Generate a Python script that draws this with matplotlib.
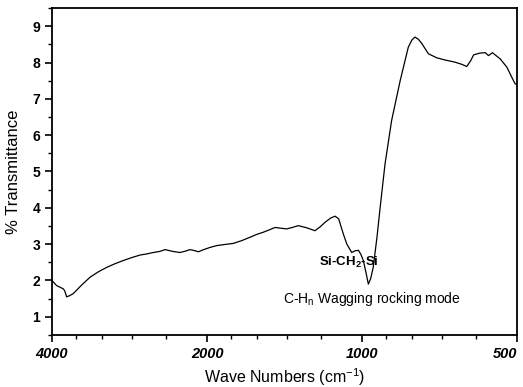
import matplotlib
matplotlib.use("Agg")
import matplotlib.pyplot as plt
from matplotlib.ticker import FixedLocator, FixedFormatter, NullFormatter, MultipleLocator

# IR spectrum (wave number in cm-1, % transmittance)
wave_numbers = [4000, 3918, 3803, 3780, 3746, 3700, 3636, 3500, 3374, 3250,
                3133, 3020, 2908, 2800, 2699, 2620, 2543, 2470, 2412, 2330,
                2256, 2200, 2158, 2110, 2079, 2030, 1973, 1915, 1850, 1779,
                1710, 1650, 1600, 1554, 1510, 1475, 1440, 1400, 1365, 1330,
                1280, 1234, 1205, 1180, 1150, 1128, 1110, 1087, 1070, 1047,
                1030, 1016, 1005, 994, 980, 972, 962, 951, 935, 922,
                902, 876, 843, 813, 800, 789, 777, 765, 743, 716,
                690, 660, 640, 626, 615, 607, 590, 576, 568, 558,
                539, 523, 510, 504, 500]
transmittance = [2.00, 1.86, 1.77, 1.72, 1.55, 1.58, 1.64, 1.88, 2.09, 2.24,
                 2.36, 2.46, 2.55, 2.63, 2.70, 2.73, 2.77, 2.80, 2.85, 2.80,
                 2.77, 2.81, 2.85, 2.82, 2.79, 2.85, 2.91, 2.96, 2.99, 3.02,
                 3.10, 3.19, 3.27, 3.33, 3.40, 3.46, 3.44, 3.42, 3.46, 3.51,
                 3.45, 3.37, 3.48, 3.60, 3.72, 3.77, 3.70, 3.28, 3.00, 2.77,
                 2.82, 2.83, 2.72, 2.55, 2.15, 1.90, 2.05, 2.36, 3.20, 4.01,
                 5.21, 6.40, 7.50, 8.42, 8.62, 8.70, 8.64, 8.52, 8.24, 8.13,
                 8.07, 8.01, 7.95, 7.89, 8.05, 8.21, 8.26, 8.27, 8.19, 8.27,
                 8.10, 7.87, 7.55, 7.41, 7.41]

x_major = [4000, 2000, 1000, 500]
x_major_labels = ["4000", "2000", "1000", "500"]
x_minor = [3600, 3200, 2800, 2400, 1800, 1600, 1400, 1200, 900, 800, 700, 600]

fig = plt.figure(figsize=(5.23, 3.87), dpi=100)
ax = fig.add_axes([0.0994, 0.1344, 0.8891, 0.8449])

ax.plot(wave_numbers, transmittance, color="black", linewidth=0.9)

ax.set_xscale("log")
ax.set_xlim(4000, 500)
ax.set_ylim(0.5, 9.5)

ax.xaxis.set_major_locator(FixedLocator(x_major))
ax.xaxis.set_major_formatter(FixedFormatter(x_major_labels))
ax.xaxis.set_minor_locator(FixedLocator(x_minor))
ax.xaxis.set_minor_formatter(NullFormatter())
ax.yaxis.set_major_locator(MultipleLocator(1))
ax.yaxis.set_minor_locator(MultipleLocator(0.5))

for s in ["left", "bottom", "right", "top"]:
    ax.spines[s].set_linewidth(1.3)

ax.tick_params(which="major", direction="out", length=5, width=1.2,
               top=False, right=False, labelsize=10)
ax.tick_params(axis="x", which="major", labelsize=10.5)
ax.tick_params(which="minor", direction="out", length=3, width=1.0,
               top=False, right=False)

xlabels = ax.get_xticklabels()
for lab in xlabels:
    lab.set_fontweight("bold")
    lab.set_fontstyle("italic")
    lab.set_family("Liberation Sans")
# last label sits at the right edge, keep it inside the figure
xlabels[-1].set_horizontalalignment("right")
for lab in ax.get_yticklabels():
    lab.set_fontweight("bold")
    lab.set_family("Liberation Sans")

ax.set_xlabel("Wave Numbers (cm$^{\\mathregular{-1}}$)", family="Liberation Sans",
              fontsize=11.5, labelpad=4)
ax.set_ylabel("% Transmittance", family="Liberation Sans", fontsize=12, labelpad=8)

ax.text(1061, 2.49, "Si-CH$_\\mathregular{2}$-Si", family="Liberation Sans",
        fontsize=9.5, fontweight="bold", ha="center", va="center")
ax.text(956, 1.50, "C-H$_\\mathregular{n}$ Wagging rocking mode", family="Liberation Sans",
        fontsize=10, ha="center", va="center")

fig.savefig("out.png", dpi=100)
